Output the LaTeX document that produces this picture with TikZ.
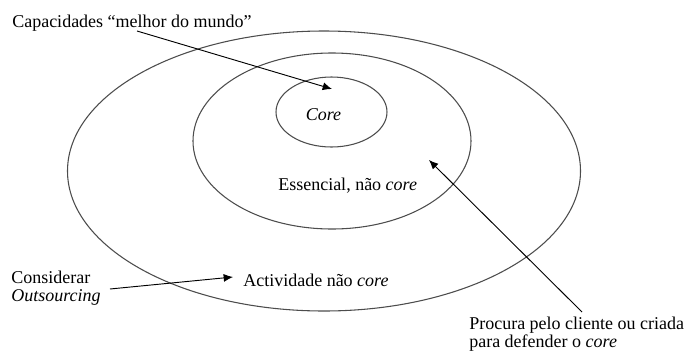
\documentclass[tikz,border=0pt]{standalone}
\usepackage{fontspec}
\setmainfont{Liberation Serif}
\usepackage{tikz}
\usetikzlibrary{arrows.meta}
\tikzset{
ring/.style={draw=black!70, line width=0.8pt},
label/.style={inner sep=0pt, anchor=base west, align=left, font=\fontsize{13.5pt}{11.3pt}\selectfont},
arrow/.style={-{Latex[length=7pt,width=6pt]}, line width=0.7pt}
}

\begin{document}
\begin{tikzpicture}[x=0.75pt,y=-0.75pt]
\useasboundingbox (0,0) rectangle (687,351);
% the three rings
\draw[ring](324,171) ellipse [x radius=256.5, y radius=140];
\draw[ring](332,141) ellipse [x radius=139, y radius=88];
\draw[ring](331.5,112) ellipse [x radius=55.5, y radius=35];
% labels (multi-line ones sit on their last line)
\node[label](cap) at (12,27){Capacidades “melhor do mundo”};
\node[label,anchor=base](core) at (323.5,120){\itshape Core};
\node[label](ess) at (278,190){Essencial, não \textit{core}};
\node[label](act) at (243,286){Actividade não \textit{core}};
\node[label](cons) at (11,301){Considerar\\[1.5pt]\textit{Outsourcing}};
\node[label](proc) at (469,347){Procura pelo cliente ou criada\\para defender o \textit{core}};
% arrow ends
\coordinate(capfrom) at (137,31);
\coordinate(capto) at (332,89);
\coordinate(consfrom) at (110,289);
\coordinate(consto) at (233,277);
\coordinate(procfrom) at (582,312);
\coordinate(procto) at (429,160);
\foreach \x/\y in {capfrom/capto,consfrom/consto,procfrom/procto}
\draw[arrow](\x)--(\y);
\end{tikzpicture}
\end{document}
